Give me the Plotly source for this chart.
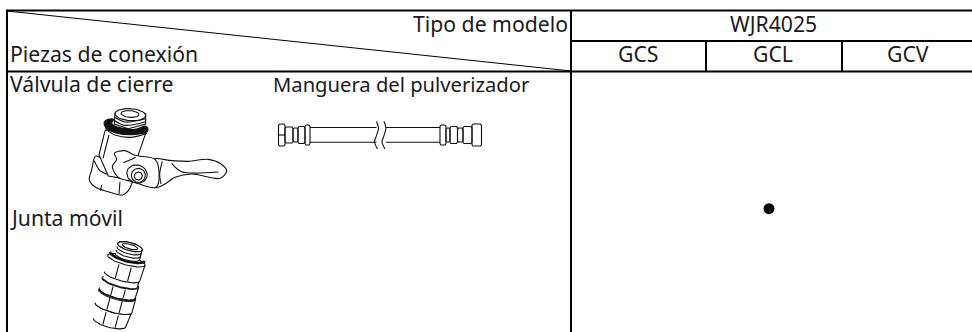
import math
import plotly.graph_objects as go

# ---- table contents ----
corner_top = "Tipo de modelo"
corner_bottom = "Piezas de conexión"
model = "WJR4025"
variants = ["GCS", "GCL", "GCV"]
parts = ["Válvula de cierre", "Manguera del pulverizador", "Junta móvil"]

FONT = "Noto Sans"
FS = 21.2
INK = "#1a1a1a"

fig = go.Figure()

def seg(x0, y0, x1, y1, w=2):
    fig.add_shape(type="line", x0=x0, y0=y0, x1=x1, y1=y1, xref="x", yref="y",
                  line=dict(color="black", width=w), layer="above")

# ---- grid ----
seg(6, 10.5, 972, 10.5)
seg(571, 41, 972, 41)
seg(6, 71.5, 972, 71.5)
seg(7, 10, 7, 332)
seg(571, 10, 571, 332)
seg(706, 41, 706, 71)
seg(842, 41, 842, 71)
seg(7, 11, 571, 71, 1)

def text(s, x, y, anchor="left", size=FS):
    fig.add_annotation(x=x, y=y, text=s, showarrow=False, xref="x", yref="y", xanchor=anchor,
                       yanchor="middle", font=dict(family=FONT, size=size, color=INK),
                       borderpad=0, borderwidth=0)

text(corner_top, 568, 23.5, "right")
text(corner_bottom, 9.5, 53.5)
text(model, 773, 23.5, "center")
for name, cx in zip(variants, [638, 773, 908]):
    text(name, cx, 53.5, "center")
text(parts[0], 9.5, 83.5)
text(parts[1], 273, 83.5, size=20.2)
text(parts[2], 9.5, 217.5)

# dot
fig.add_trace(go.Scatter(x=[769], y=[208.7], mode="markers", hoverinfo="skip",
                         marker=dict(color="black", size=11, line=dict(width=0))))

def curve(pts, close=False, fill=None, w=1.1, smooth=0.9, color="#111"):
    xs = [p[0] for p in pts]
    ys = [p[1] for p in pts]
    if close:
        xs.append(xs[0]); ys.append(ys[0])
    fig.add_trace(go.Scatter(x=xs, y=ys, mode="lines", hoverinfo="skip",
                             line=dict(color=color, width=w, shape="spline", smoothing=smooth),
                             fill="toself" if fill else "none", fillcolor=fill))

def poly(pts, w=1.1, fill=None, color="#111"):
    xs = [p[0] for p in pts]
    ys = [p[1] for p in pts]
    fig.add_trace(go.Scatter(x=xs, y=ys, mode="lines", hoverinfo="skip",
                             line=dict(color=color, width=w),
                             fill="toself" if fill else "none", fillcolor=fill))

# ---- valve outline, in crop pixels ----
def V(pts):
    return [(75 + x / 3, 100 + y / 3) for x, y in pts]

def ell(cx, cy, rx, ry, rot=0.0, a0=0, a1=360, n=40):
    out = []
    r = math.radians(rot)
    for i in range(n + 1):
        a = math.radians(a0 + (a1 - a0) * i / n)
        x, y = rx * math.cos(a), ry * math.sin(a)
        out.append((cx + x * math.cos(r) - y * math.sin(r), cy + x * math.sin(r) + y * math.cos(r)))
    return out

# lower nut
curve(V([(62, 168), (50, 210), (43, 240), (62, 262), (100, 275), (142, 285), (160, 272), (172, 232), (100, 190)]), close=True, fill="white")
curve(V([(58, 182), (75, 212), (105, 226), (135, 235)]))
curve(V([(80, 255), (76, 272)]))
curve(V([(135, 245), (132, 282)]))
# body
poly(V([(90, 92), (72, 165), (100, 228), (170, 240), (188, 170), (212, 100), (150, 85), (90, 92)]), fill="white")
curve(V([(102, 105), (84, 175)]))
# thread
poly(V([(120, 38), (118, 72), (160, 86), (212, 72), (212, 42), (165, 28), (120, 38)]), fill="white")
curve(V([(120, 52), (150, 66), (212, 56)]))
curve(V([(119, 62), (150, 76), (212, 65)]))
poly(V(ell(166, 44, 46, 18, 4)), fill="white")
poly(V(ell(165, 42, 27, 10, 4)))
# gasket (black band)
curve(V([(88, 66), (92, 82), (120, 98), (170, 104), (218, 94), (218, 84), (212, 78), (180, 88), (130, 82), (110, 70), (116, 58), (100, 58)]),
      close=True, fill="#111")
curve(V([(90, 86), (120, 105), (170, 112), (216, 100)]))
# lever
curve(V([(232, 178), (290, 182), (340, 184), (400, 178), (438, 192), (455, 213), (435, 235), (350, 222), (300, 232), (265, 255), (243, 262), (225, 220)]),
      close=True, fill="white")
curve(V([(290, 190), (320, 215), (430, 216)]))
curve(V([(262, 184), (254, 222), (258, 252)]))
# hub
curve(V([(118, 160), (150, 152), (180, 166), (240, 178), (252, 215), (243, 262), (172, 245), (130, 232), (112, 200), (125, 178)]),
      close=True, fill="white")
curve(V([(145, 188), (170, 178), (182, 172)]))
# round nut
poly(V(ell(186, 222, 31, 27, 20)), fill="white")
poly(V(ell(190, 226, 21, 21, 0)), fill="white")
poly(V(ell(190, 228, 12, 12, 0)))

# ---- hose, in page pixels ----
def rrect(x0, x1, y0, y1):
    return [(x0 + 1, y0), (x1 - 1, y0), (x1, y0 + 1.5), (x1, y1 - 1.5), (x1 - 1, y1), (x0 + 1, y1), (x0, y1 - 1.5), (x0, y0 + 1.5), (x0 + 1, y0)]

cy = 135
hose_left = [(278.5, 285, 11), (285, 293, 8), (293, 298, 7), (298, 305, 8.5), (305, 310, 10)]
hose_right = [(440, 446, 10), (446, 450, 7), (450, 457.5, 8.5), (457.5, 463, 7), (463, 472, 8.5), (472, 481.5, 11)]
for a, b, h in hose_left + hose_right:
    poly(rrect(a, b, cy - h, cy + h))
seg(278.5, 135, 285, 135, 1.1)
for y in (127.5, 142.3):
    poly([(310, y), (376.5, y)])
    poly([(386, y), (440, y)])
for dx in (0, 7.5):
    curve([(376.5 + dx, 121.5), (378.5 + dx, 128), (376 + dx, 137), (374.5 + dx, 142), (377.5 + dx, 149)])

# ---- movable joint, along tilted axis in crop pixels ----
O = (150, 35)
D = (-0.26, 0.966)
P = (0.966, 0.26)
def J(t, w):
    return (80 + (O[0] + D[0] * t + P[0] * w) / 3, 235 + (O[1] + D[1] * t + P[1] * w) / 3)

def arc(t, w, ry, a0=0, a1=180, n=24):
    return [J(t + ry * math.sin(math.radians(a0 + (a1 - a0) * i / n)),
              w * math.cos(math.radians(a0 + (a1 - a0) * i / n))) for i in range(n + 1)]

def band(t0, t1, w, ry, w1=None):
    w1 = w1 if w1 is not None else w
    poly(arc(t0, w, ry, 180, 360) + arc(t1, w1, ry), fill="white")
    poly(arc(t0, w, ry))

band(190, 236, 56, 14, 50)       # bottom nut
band(146, 190, 57, 14)           # lower collar
band(112, 146, 57, 14, 55)       # upper collar
band(92, 112, 53, 12)            # neck
band(42, 92, 58, 14, 55)         # hex
poly(arc(146, 57, 14), w=1.4)
poly(arc(150, 57, 14), w=1.0)
for w in (-18, 20):
    poly([J(246, w), J(208, w)])
    poly([J(60, w), J(102, w)])
    poly([J(162, w), J(200, w)])
    poly([J(128, w), J(155, w)])
band(0, 30, 38, 12)              # thread
poly(arc(10, 38, 12))
poly(arc(20, 38, 12))
poly(arc(30, 54, 15), w=2.6, color="#111")
poly(arc(0, 38, 12) + arc(0, 38, 12, 180, 360), fill="white")
poly(arc(0, 24, 7) + arc(0, 24, 7, 180, 360))

fig.update_layout(
    width=972, height=332, margin=dict(l=0, r=0, t=0, b=0),
    paper_bgcolor="white", plot_bgcolor="white", showlegend=False,
    xaxis=dict(range=[0, 972], visible=False, fixedrange=True),
    yaxis=dict(range=[332, 0], visible=False, fixedrange=True),
)
fig.write_html("out.html", config={"displayModeBar": False},
               post_script="document.body.style.margin='0';document.body.style.overflow='hidden';")
